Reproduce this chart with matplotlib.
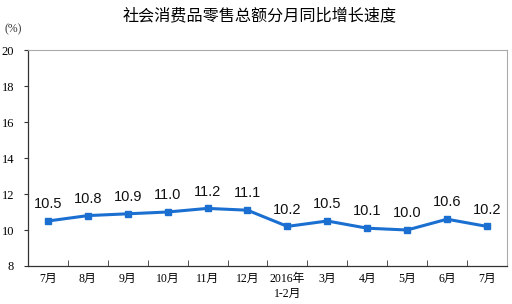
import matplotlib
matplotlib.use("Agg")
import matplotlib.pyplot as plt

categories = ["7月", "8月", "9月", "10月", "11月", "12月", "2016年\n1-2月", "3月", "4月", "5月", "6月", "7月"]
values = [10.5, 10.8, 10.9, 11.0, 11.2, 11.1, 10.2, 10.5, 10.1, 10.0, 10.6, 10.2]
yticks = [8, 10, 12, 14, 16, 18, 20]

serif = ["Liberation Serif", "Noto Sans CJK SC"]
sans = ["Liberation Sans", "Noto Sans CJK SC"]

fig = plt.figure(figsize=(5.12, 3.04), dpi=100)
ax = fig.add_axes([0.0547, 0.125, 0.9353, 0.7105])

x = list(range(len(values)))
color = "#1a6fd0"
ax.plot(x, values, color=color, lw=2.2, marker="s", ms=5, mfc=color, mec=color, zorder=3)
for xi, v in zip(x, values):
    ax.text(xi, v + 0.55, f"{v:.1f}", ha="center", va="bottom", fontsize=10.5,
            family=sans, color="#111111")

ax.set_xlim(-0.5, len(values) - 0.5)
ax.set_ylim(8, 20)
ax.set_yticks(yticks)
ax.set_yticklabels([str(t) for t in yticks], family=serif, fontsize=9)

ax.set_xticks(x)
ax.set_xticklabels(categories, family=serif, fontsize=8.5, linespacing=1.3)
ax.tick_params(axis="x", length=0, pad=5)
ax.set_xticks([i - 0.5 for i in range(len(values) + 1)], minor=True)
ax.tick_params(axis="x", which="minor", direction="in", length=4, color="#333333")
ax.tick_params(axis="y", direction="out", length=3, color="#333333", pad=7)

for s in ["top", "right"]:
    ax.spines[s].set_color("#aaaaaa")
    ax.spines[s].set_linestyle((0, (1, 1)))
    ax.spines[s].set_linewidth(0.8)
for s in ["left", "bottom"]:
    ax.spines[s].set_color("#333333")
    ax.spines[s].set_linewidth(0.9)

fig.text(0.508, 0.95, "社会消费品零售总额分月同比增长速度", ha="center", va="center",
         fontsize=11.6, family=sans)
fig.text(0.008, 0.905, "(%)", ha="left", va="center", fontsize=8.5, family=serif, color="#333333")

fig.savefig("out.png", dpi=100)
